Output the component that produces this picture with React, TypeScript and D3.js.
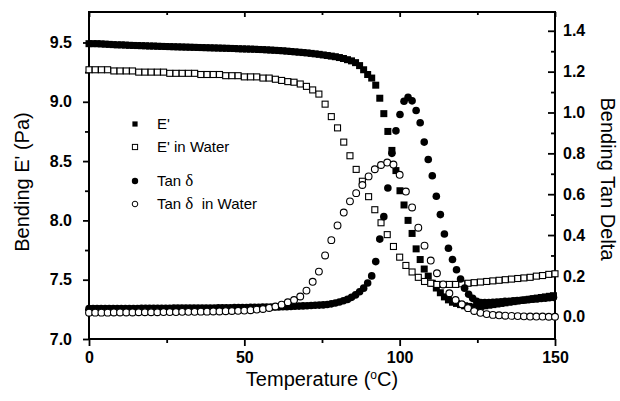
import React, { useEffect, useRef } from "react";
import * as d3 from "d3";

// temperature grid of the dense (filled) series, degC
const tempFilled = [
  0, 1.3, 2.6, 3.9, 5.2, 6.5, 7.8, 9.1, 10.4, 11.7,
  13, 14.3, 15.6, 16.9, 18.2, 19.5, 20.8, 22.1, 23.4, 24.7,
  26, 27.3, 28.6, 29.9, 31.2, 32.5, 33.8, 35.1, 36.4, 37.7,
  39, 40.3, 41.6, 42.9, 44.2, 45.5, 46.8, 48.1, 49.4, 50.7,
  52, 53.3, 54.6, 55.9, 57.2, 58.5, 59.8, 61.1, 62.4, 63.7,
  65, 66.3, 67.6, 68.9, 70.2, 71.5, 72.8, 74.1, 75.4, 76.7,
  78, 79.3, 80.6, 81.9, 83.2, 84.5, 85.8, 87.1, 88.4, 89.7,
  91, 92.3, 93.6, 94.9, 96.2, 97.5, 98.8, 100.1, 101.4, 102.7,
  104, 105.3, 106.6, 107.9, 109.2, 110.5, 111.8, 113.1, 114.4, 115.7,
  117, 118.3, 119.6, 120.9, 122.2, 123.5, 124.8, 126.1, 127.4, 128.7,
  130, 131.3, 132.6, 133.9, 135.2, 136.5, 137.8, 139.1, 140.4, 141.7,
  143, 144.3, 145.6, 146.9, 148.2, 149.5,
];

// E' (dry), left axis
const ePrime = [
  9.49, 9.49, 9.49, 9.488, 9.486, 9.484, 9.482, 9.48, 9.48, 9.478,
  9.476, 9.475, 9.474, 9.473, 9.472, 9.47, 9.47, 9.468, 9.467, 9.466,
  9.465, 9.464, 9.463, 9.462, 9.461, 9.46, 9.459, 9.458, 9.457, 9.456,
  9.455, 9.454, 9.453, 9.452, 9.451, 9.45, 9.449, 9.447, 9.446, 9.445,
  9.444, 9.443, 9.441, 9.44, 9.438, 9.436, 9.434, 9.432, 9.43, 9.427,
  9.424, 9.421, 9.418, 9.415, 9.412, 9.408, 9.404, 9.4, 9.395, 9.39,
  9.385, 9.38, 9.373, 9.365, 9.355, 9.345, 9.33, 9.305, 9.27, 9.23,
  9.2, 9.14, 9.03, 8.9, 8.75, 8.59, 8.42, 8.25, 8.13, 8.0,
  7.89, 7.76, 7.67, 7.59, 7.53, 7.47, 7.43, 7.39, 7.355, 7.33,
  7.31, 7.3, 7.29, 7.28, 7.275, 7.27, 7.27, 7.275, 7.28, 7.285,
  7.29, 7.295, 7.3, 7.305, 7.31, 7.315, 7.32, 7.325, 7.33, 7.335,
  7.34, 7.345, 7.35, 7.355, 7.36, 7.365,
];

// tan delta (dry), right axis
const tanDelta = [
  0.04, 0.04, 0.04, 0.04, 0.04, 0.04, 0.04, 0.04, 0.04, 0.04,
  0.04, 0.04, 0.04, 0.041, 0.041, 0.041, 0.041, 0.041, 0.041, 0.041,
  0.041, 0.042, 0.042, 0.042, 0.042, 0.042, 0.042, 0.043, 0.043, 0.043,
  0.043, 0.043, 0.044, 0.044, 0.044, 0.044, 0.045, 0.045, 0.045, 0.045,
  0.046, 0.046, 0.046, 0.047, 0.047, 0.047, 0.048, 0.048, 0.049, 0.049,
  0.05, 0.051, 0.052, 0.053, 0.054, 0.055, 0.056, 0.057, 0.058, 0.06,
  0.063, 0.067, 0.072, 0.078, 0.085, 0.095, 0.107, 0.122, 0.14, 0.165,
  0.2, 0.27, 0.38, 0.49, 0.63, 0.8, 0.91, 0.99, 1.055, 1.074,
  1.057, 1.01, 0.95, 0.855, 0.77, 0.69, 0.59, 0.5, 0.405, 0.335,
  0.28, 0.23, 0.185, 0.14, 0.11, 0.09, 0.075, 0.07, 0.07, 0.07,
  0.071, 0.072, 0.073, 0.075, 0.076, 0.078, 0.079, 0.081, 0.082, 0.084,
  0.086, 0.087, 0.089, 0.091, 0.093, 0.095,
];

// temperature grid of the open (in water) series, degC
const tempOpen = [
  0, 2, 4, 6, 8, 10, 12, 14, 16, 18,
  20, 22, 24, 26, 28, 30, 32, 34, 36, 38,
  40, 42, 44, 46, 48, 50, 52, 54, 56, 58,
  60, 62, 64, 66, 68, 70, 72, 74, 76, 78,
  80, 82, 84, 86, 88, 90, 92, 94, 96, 98,
  100, 102, 104, 106, 108, 110, 112, 114, 116, 118,
  120, 122, 124, 126, 128, 130, 132, 134, 136, 138,
  140, 142, 144, 146, 148, 150,
];

const ePrimeWater = [
  9.27, 9.27, 9.27, 9.27, 9.26, 9.26, 9.26, 9.26, 9.25, 9.25,
  9.25, 9.25, 9.25, 9.24, 9.24, 9.24, 9.24, 9.24, 9.23, 9.23,
  9.23, 9.23, 9.22, 9.22, 9.22, 9.21, 9.21, 9.21, 9.2, 9.2,
  9.19, 9.18, 9.17, 9.165, 9.15, 9.13, 9.1, 9.065, 8.98, 8.875,
  8.78, 8.66, 8.545, 8.43, 8.33, 8.2, 8.09, 7.98, 7.88, 7.78,
  7.69, 7.62, 7.565, 7.52, 7.485, 7.47, 7.46, 7.46, 7.46, 7.46,
  7.465, 7.47, 7.475, 7.48, 7.485, 7.49, 7.495, 7.5, 7.505, 7.51,
  7.515, 7.52, 7.53, 7.535, 7.545, 7.55,
];

const tanDeltaWater = [
  0.02, 0.02, 0.02, 0.02, 0.021, 0.021, 0.021, 0.021, 0.022, 0.022,
  0.022, 0.022, 0.023, 0.023, 0.023, 0.024, 0.024, 0.024, 0.025, 0.025,
  0.026, 0.026, 0.027, 0.028, 0.029, 0.03, 0.032, 0.035, 0.038, 0.043,
  0.05, 0.059, 0.071, 0.082, 0.099, 0.128, 0.171, 0.221, 0.3, 0.375,
  0.447, 0.51, 0.565, 0.605, 0.645, 0.687, 0.722, 0.743, 0.755, 0.745,
  0.695, 0.613, 0.535, 0.436, 0.348, 0.275, 0.213, 0.158, 0.115, 0.082,
  0.061, 0.042, 0.028, 0.019, 0.013, 0.009, 0.007, 0.005, 0.004, 0.003,
  0.002, 0.001, 0.001, 0.001, 0, 0,
];

const xMajor = [0, 50, 100, 150];
const xMinor = [25, 75, 125];
const leftMajor = [7.0, 7.5, 8.0, 8.5, 9.0, 9.5];
const leftMinor = [7.25, 7.75, 8.25, 8.75, 9.25];
const rightMajor = [0.0, 0.2, 0.4, 0.6, 0.8, 1.0, 1.2, 1.4];
const rightMinor = [0.1, 0.3, 0.5, 0.7, 0.9, 1.1, 1.3];

const legendItems = [
  { label: "E'", marker: "square", filled: true },
  { label: "E' in Water", marker: "square", filled: false },
  { label: "Tan", suffix: "", marker: "circle", filled: true },
  { label: "Tan", suffix: "  in Water", marker: "circle", filled: false },
];

const FONT = "Arial, 'Liberation Sans', sans-serif";

const App = () => {
  const ref = useRef<SVGSVGElement>(null);

  useEffect(() => {
    const svg = d3.select(ref.current);
    svg.selectAll("*").remove();

    const left = 89, right = 555, top = 12, bottom = 339;

    const x = d3.scaleLinear().domain([0, 150]).range([left, right]);
    const yL = d3.scaleLinear().domain([7.0, 9.757]).range([bottom, top]);
    const yR = d3.scaleLinear().domain([-0.109, 1.492]).range([bottom, top]);

    svg.append("rect").attr("width", 620).attr("height", 401).attr("fill", "white");

    const styleAxis = (g, withText) => {
      g.select(".domain").remove();
      g.selectAll("line").attr("stroke", "black").attr("stroke-width", 1.8);
      g.selectAll("text")
        .attr("fill", "black")
        .style("font-family", FONT)
        .style("font-weight", "bold")
        .style("font-size", "16px");
      if (!withText) g.selectAll("text").remove();
    };

    // bottom
    svg.append("g").attr("transform", `translate(0,${bottom})`)
      .call(d3.axisBottom(x).tickValues(xMajor).tickSize(7).tickPadding(6).tickFormat(d3.format("d")))
      .call((g) => styleAxis(g, true));
    svg.append("g").attr("transform", `translate(0,${bottom})`)
      .call(d3.axisBottom(x).tickValues(xMinor).tickSize(4))
      .call((g) => styleAxis(g, false));
    // top (inward)
    svg.append("g").attr("transform", `translate(0,${top})`)
      .call(d3.axisTop(x).tickValues(xMajor).tickSize(-5))
      .call((g) => styleAxis(g, false));
    svg.append("g").attr("transform", `translate(0,${top})`)
      .call(d3.axisTop(x).tickValues(xMinor).tickSize(-3))
      .call((g) => styleAxis(g, false));
    // left
    svg.append("g").attr("transform", `translate(${left},0)`)
      .call(d3.axisLeft(yL).tickValues(leftMajor).tickSize(6).tickPadding(11).tickFormat(d3.format(".1f")))
      .call((g) => styleAxis(g, true));
    svg.append("g").attr("transform", `translate(${left},0)`)
      .call(d3.axisLeft(yL).tickValues(leftMinor).tickSize(4))
      .call((g) => styleAxis(g, false));
    // right (inward)
    svg.append("g").attr("transform", `translate(${right},0)`)
      .call(d3.axisRight(yR).tickValues(rightMajor).tickSize(-7).tickPadding(8).tickFormat(d3.format(".1f")))
      .call((g) => styleAxis(g, true));
    svg.append("g").attr("transform", `translate(${right},0)`)
      .call(d3.axisRight(yR).tickValues(rightMinor).tickSize(-4))
      .call((g) => styleAxis(g, false));

    // frame
    svg.append("rect")
      .attr("x", left).attr("y", top)
      .attr("width", right - left).attr("height", bottom - top)
      .attr("fill", "none").attr("stroke", "black").attr("stroke-width", 2);

    const plot = svg.append("g");

    const drawSquares = (xs, ys, yScale, filled, size) => {
      plot.append("g").selectAll("rect")
        .data(xs.map((t, i) => [t, ys[i]]))
        .enter().append("rect")
        .attr("x", (d) => x(d[0]) - size / 2)
        .attr("y", (d) => yScale(d[1]) - size / 2)
        .attr("width", size).attr("height", size)
        .attr("fill", filled ? "black" : "white")
        .attr("stroke", "black").attr("stroke-width", filled ? 0 : 1.1);
    };
    const drawCircles = (xs, ys, yScale, filled, r) => {
      plot.append("g").selectAll("circle")
        .data(xs.map((t, i) => [t, ys[i]]))
        .enter().append("circle")
        .attr("cx", (d) => x(d[0]))
        .attr("cy", (d) => yScale(d[1]))
        .attr("r", r)
        .attr("fill", filled ? "black" : "white")
        .attr("stroke", "black").attr("stroke-width", filled ? 0 : 1.1);
    };

    drawSquares(tempFilled, ePrime, yL, true, 7);
    drawSquares(tempOpen, ePrimeWater, yL, false, 6);
    drawCircles(tempFilled, tanDelta, yR, true, 3.8);
    drawCircles(tempOpen, tanDeltaWater, yR, false, 3.4);

    // legend
    const legendY = [124, 147, 181, 204];
    legendItems.forEach((item, i) => {
      const cy = legendY[i];
      if (item.marker === "square") {
        svg.append("rect")
          .attr("x", 135 - 2.6).attr("y", cy - 2.6).attr("width", 5.2).attr("height", 5.2)
          .attr("fill", item.filled ? "black" : "white")
          .attr("stroke", "black").attr("stroke-width", item.filled ? 0 : 1);
      } else {
        svg.append("circle")
          .attr("cx", 135).attr("cy", cy).attr("r", item.filled ? 3.2 : 2.8)
          .attr("fill", item.filled ? "black" : "white")
          .attr("stroke", "black").attr("stroke-width", item.filled ? 0 : 1);
      }
      const t = svg.append("text")
        .attr("x", 157).attr("y", cy + 5)
        .style("font-family", FONT).style("font-size", "15px").attr("fill", "black");
      if (item.marker === "square") {
        t.text(item.label);
      } else {
        t.append("tspan").text(item.label + " ");
        t.append("tspan").style("font-family", "'Liberation Serif', serif").style("font-size", "17px").text("δ");
        if (item.suffix) t.append("tspan").attr("xml:space", "preserve").style("white-space", "pre").text(item.suffix);
      }
    });

    // axis titles
    const xt = svg.append("text")
      .attr("x", 322).attr("y", 386).attr("text-anchor", "middle")
      .style("font-family", FONT).style("font-size", "20px").attr("fill", "black");
    xt.append("tspan").text("Temperature (");
    xt.append("tspan").attr("dy", -7).style("font-size", "12px").text("o");
    xt.append("tspan").attr("dy", 7).text("C)");

    svg.append("text")
      .attr("transform", `translate(29,182) rotate(-90)`)
      .attr("text-anchor", "middle")
      .style("font-family", FONT).style("font-size", "20px").attr("fill", "black")
      .text("Bending E' (Pa)");

    svg.append("text")
      .attr("transform", `translate(601,179) rotate(90)`)
      .attr("text-anchor", "middle")
      .style("font-family", FONT).style("font-size", "20px").attr("fill", "black")
      .text("Bending Tan Delta");
  }, []);

  return (
    <div style={{ position: "absolute", left: 0, top: 0 }}>
      <svg ref={ref} width={620} height={401} style={{ display: "block" }} />
    </div>
  );
};

export default App;
